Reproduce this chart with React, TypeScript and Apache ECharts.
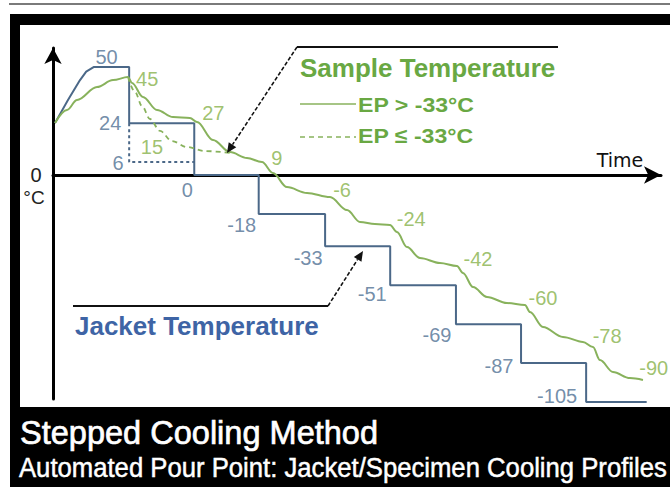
import React, { useEffect, useRef } from "react";
import * as echarts from "echarts";

// ---- data (time in minutes-like units, temperature in °C) ----
const stepTimes = [11.7, 21.7, 31.6, 41.8, 51.8, 61.9, 71.9, 81.9];
const endTime = 91.2;
const jacketLevels = [50, 24, 0, -18, -33, -51, -69, -87, -105];
const jacketRampTime = [0.3, 2.3, 4.15, 5.1, 6.3];
const jacketRampTemp = [24, 34.7, 43.9, 47.8, 50];
const jacketAltLevel = 6;

const sampleTime = [
  0.31, 2.15, 3.69, 6.76, 9.22, 11.52, 12.14, 13.82, 15.98, 18.43, 21.04, 22.12,
  24.58, 27.19, 29.8, 32.1, 33.79, 35.94, 39.02, 42.55, 45.16, 47.16, 49.46, 51.77,
  52.84, 54.38, 56.37, 59.45, 62.06, 62.98, 64.52, 66.67, 69.74, 72.5, 73.27, 75.27,
  78.34, 81.41, 82.95, 84.02, 86.02, 88.63, 90.63,
];
const sampleTemp = [
  24.1, 30.1, 34.7, 40.7, 43.9, 45.3, 42.6, 36.1, 30.1, 26.8, 26.4, 24.5,
  16.2, 10.6, 7.9, 6.0, 0.9, -5.6, -8.3, -10.2, -16.2, -21.7, -22.7, -23.1,
  -26.4, -33.3, -38.4, -40.7, -42.1, -45.3, -51.8, -56.4, -59.2, -60.1, -63.4, -70.3,
  -74.9, -77.2, -79.6, -85.6, -91.1, -93.9, -94.8,
];
const sampleAltTime = [11.52, 12.6, 13.67, 14.9, 16.44, 18.28, 20.58, 23.35, 27.19];
const sampleAltTemp = [45.3, 38.4, 31.9, 25.9, 20.4, 15.7, 12.95, 11.1, 10.2];

const sampleLabels = [45, 27, 9, -6, -24, -42, -60, -78, -90];
const sampleAltLabel = 15;

// ---- styles ----
const JACKET = "#4b6888";
const JACKET_TEXT = "#4f7093";
const SAMPLE = "#88b25c";
const SAMPLE_TEXT = "#86b24a";
const TITLE_GREEN = "#69a843";
const FONT = '"Liberation Sans", Arial, sans-serif';

const jacketLabelOffsets = [[-5, -10], [-19, 0], [-7, 15], [-17, 11], [-17, 12], [-18, 9], [-19, 11], [-22, 3], [-29, -6]];
const jacketAltOffset = [-11, 1];
const sampleLabelOffsets = [[18, 1], [19, -4], [18, 2], [17, 2], [21, -8], [22, -7], [22, -7], [21, -8], [7, -2]];
const sampleAltOffset = [-20, 4];

function buildOption() {
  const jacketPoints: number[][] = [];
  jacketRampTime.forEach((t, i) => jacketPoints.push([t, jacketRampTemp[i]]));
  let start = jacketRampTime[jacketRampTime.length - 1];
  jacketLevels.forEach((lvl, i) => {
    const end = i < stepTimes.length ? stepTimes[i] : endTime;
    jacketPoints.push([start, lvl], [end, lvl]);
    start = end;
  });
  const jacketAlt = [
    [stepTimes[0], jacketLevels[1]],
    [stepTimes[0], jacketAltLevel],
    [stepTimes[1], jacketAltLevel],
  ];
  const samplePoints = sampleTime.map((t, i) => [t, sampleTemp[i]]);
  const sampleAlt = sampleAltTime.map((t, i) => [t, sampleAltTemp[i]]);

  const plateauMid0 = (jacketRampTime[jacketRampTime.length - 1] + stepTimes[0]) / 2;
  const jacketLabelData: any[] = jacketLevels.map((lvl, i) => ({
    name: String(lvl),
    value: [i === 0 ? plateauMid0 : stepTimes[i - 1], lvl],
    label: { offset: jacketLabelOffsets[i] },
  }));
  jacketLabelData.push({
    name: String(jacketAltLevel),
    value: [stepTimes[0], jacketAltLevel],
    label: { offset: jacketAltOffset },
  });
  const sampleLabelData: any[] = sampleLabels.map((v, i) => ({
    name: String(v),
    value: [i < stepTimes.length ? stepTimes[i] : endTime, v],
    label: { offset: sampleLabelOffsets[i] },
  }));
  sampleLabelData.push({
    name: String(sampleAltLabel),
    value: [sampleAltTime[5], sampleAltLabel],
    label: { offset: sampleAltOffset },
  });

  const labelSeries = (data: any[], color: string) => ({
    type: "scatter",
    data,
    symbolSize: 1,
    itemStyle: { color: "rgba(0,0,0,0)" },
    silent: true,
    clip: false,
    z: 5,
    label: {
      show: true,
      position: "inside",
      formatter: "{b}",
      color,
      fontSize: 20,
      fontFamily: FONT,
      align: "center",
      verticalAlign: "middle",
    },
  });

  // arrowhead helper
  const arrowHead = (sx: number, sy: number, tx: number, ty: number, len = 10, hw = 4.5) => {
    const dx = tx - sx, dy = ty - sy;
    const l = Math.hypot(dx, dy);
    const ux = dx / l, uy = dy / l;
    const bx = tx - len * ux, by = ty - len * uy;
    const px = -uy, py = ux;
    return {
      base: [bx, by],
      pts: [[tx, ty], [bx + hw * px, by + hw * py], [bx - hw * px, by - hw * py]],
    };
  };
  const sArrow = arrowHead(297, 47, 227, 153);
  const jArrow = arrowHead(328, 306, 363, 251);

  const graphic: any[] = [
    { type: "rect", z: -10, silent: true, shape: { x: 9, y: 3, width: 661, height: 2 }, style: { fill: "#7a7a7a" } },
    { type: "rect", z: -10, silent: true, shape: { x: 10, y: 14, width: 660, height: 473 }, style: { fill: "#000" } },
    { type: "rect", z: -9, silent: true, shape: { x: 20, y: 25, width: 650, height: 382 }, style: { fill: "#fff" } },
    // bottom titles
    {
      type: "text", x: 20, y: 432, scaleX: 0.957, z: 10,
      style: { text: "Stepped Cooling Method", fill: "#fff", stroke: "#fff", lineWidth: 0.7, font: `34px ${FONT}`, verticalAlign: "middle", align: "left" },
    },
    {
      type: "text", x: 19, y: 468, scaleX: 0.917, z: 10,
      style: { text: "Automated Pour Point: Jacket/Specimen Cooling Profiles", fill: "#fff", stroke: "#fff", lineWidth: 0.5, font: `28px ${FONT}`, verticalAlign: "middle", align: "left" },
    },
    // axis texts
    { type: "text", x: 620, y: 160, z: 10, style: { text: "Time", fill: "#111", font: `19px "DejaVu Sans", sans-serif`, align: "center", verticalAlign: "middle" } },
    { type: "text", x: 36, y: 175, z: 10, style: { text: "0", fill: "#222", font: `20px ${FONT}`, align: "center", verticalAlign: "middle" } },
    { type: "text", x: 34, y: 197, z: 10, style: { text: "°C", fill: "#222", font: `19px ${FONT}`, align: "center", verticalAlign: "middle" } },
    // sample legend block
    { type: "text", x: 300, y: 68, z: 10, style: { text: "Sample Temperature", fill: TITLE_GREEN, font: `bold 26px ${FONT}`, align: "left", verticalAlign: "middle" } },
    { type: "line", z: 10, shape: { x1: 300, y1: 104, x2: 356, y2: 104 }, style: { stroke: SAMPLE, lineWidth: 1.5 } },
    { type: "text", x: 358, y: 105, scaleX: 1.1, z: 10, style: { text: "EP > -33°C", fill: TITLE_GREEN, font: `bold 21px ${FONT}`, align: "left", verticalAlign: "middle" } },
    { type: "line", z: 10, shape: { x1: 300, y1: 137, x2: 356, y2: 137 }, style: { stroke: SAMPLE, lineWidth: 1.5, lineDash: [5, 4] } },
    { type: "text", x: 358, y: 136, scaleX: 1.1, z: 10, style: { text: "EP ≤ -33°C", fill: TITLE_GREEN, font: `bold 21px ${FONT}`, align: "left", verticalAlign: "middle" } },
    // sample callout
    { type: "line", z: 10, shape: { x1: 297, y1: 47, x2: 558, y2: 47 }, style: { stroke: "#111", lineWidth: 2 } },
    { type: "line", z: 10, shape: { x1: 297, y1: 47, x2: sArrow.base[0], y2: sArrow.base[1] }, style: { stroke: "#111", lineWidth: 1.6, lineDash: [4, 2] } },
    { type: "polygon", z: 10, shape: { points: sArrow.pts }, style: { fill: "#111" } },
    // jacket callout
    { type: "text", x: 75, y: 326, scaleX: 1.04, z: 10, style: { text: "Jacket Temperature", fill: "#3e64a5", font: `bold 25px ${FONT}`, align: "left", verticalAlign: "middle" } },
    { type: "line", z: 10, shape: { x1: 73, y1: 306, x2: 328, y2: 306 }, style: { stroke: "#111", lineWidth: 2 } },
    { type: "line", z: 10, shape: { x1: 328, y1: 306, x2: jArrow.base[0], y2: jArrow.base[1] }, style: { stroke: "#111", lineWidth: 1.6, lineDash: [4, 2] } },
    { type: "polygon", z: 10, shape: { points: jArrow.pts }, style: { fill: "#111" } },
  ];

  return {
    animation: false,
    backgroundColor: "#fff",
    grid: { left: 53, top: 48, width: 608, height: 351, containLabel: false },
    xAxis: {
      type: "value",
      min: 0,
      max: 93.4,
      axisLine: { show: true, onZero: true, symbol: ["none", "arrow"], symbolSize: [13, 17], lineStyle: { color: "#000", width: 3 } },
      axisTick: { show: false },
      axisLabel: { show: false },
      splitLine: { show: false },
    },
    yAxis: {
      type: "value",
      min: -103.6,
      max: 58.75,
      axisLine: { show: true, symbol: ["none", "arrow"], symbolSize: [13, 16], lineStyle: { color: "#000", width: 3 } },
      axisTick: { show: false },
      axisLabel: { show: false },
      splitLine: { show: false },
    },
    graphic,
    series: [
      {
        type: "line", data: jacketPoints, symbol: "none", clip: false, z: 3,
        lineStyle: { color: JACKET, width: 2 },
      },
      {
        type: "line", data: jacketAlt, symbol: "none", clip: false, z: 3,
        lineStyle: { color: JACKET, width: 2, type: [3, 3] },
      },
      {
        type: "line", data: samplePoints, symbol: "none", clip: false, z: 4,
        smooth: 0.35, smoothMonotone: "x",
        lineStyle: { color: SAMPLE, width: 2 },
      },
      {
        type: "line", data: sampleAlt, symbol: "none", clip: false, z: 4,
        smooth: 0.35, smoothMonotone: "x",
        lineStyle: { color: SAMPLE, width: 1.8, type: [5, 4] },
      },
      labelSeries(jacketLabelData, JACKET_TEXT),
      labelSeries(sampleLabelData, SAMPLE_TEXT),
    ],
  };
}

export default function App() {
  const ref = useRef<HTMLDivElement>(null);
  useEffect(() => {
    if (!ref.current) return;
    const chart = echarts.init(ref.current, undefined, { renderer: "svg" });
    chart.setOption(buildOption() as any);
    return () => chart.dispose();
  }, []);
  return <div ref={ref} style={{ position: "absolute", left: 0, top: 0, width: 670, height: 487 }} />;
}
